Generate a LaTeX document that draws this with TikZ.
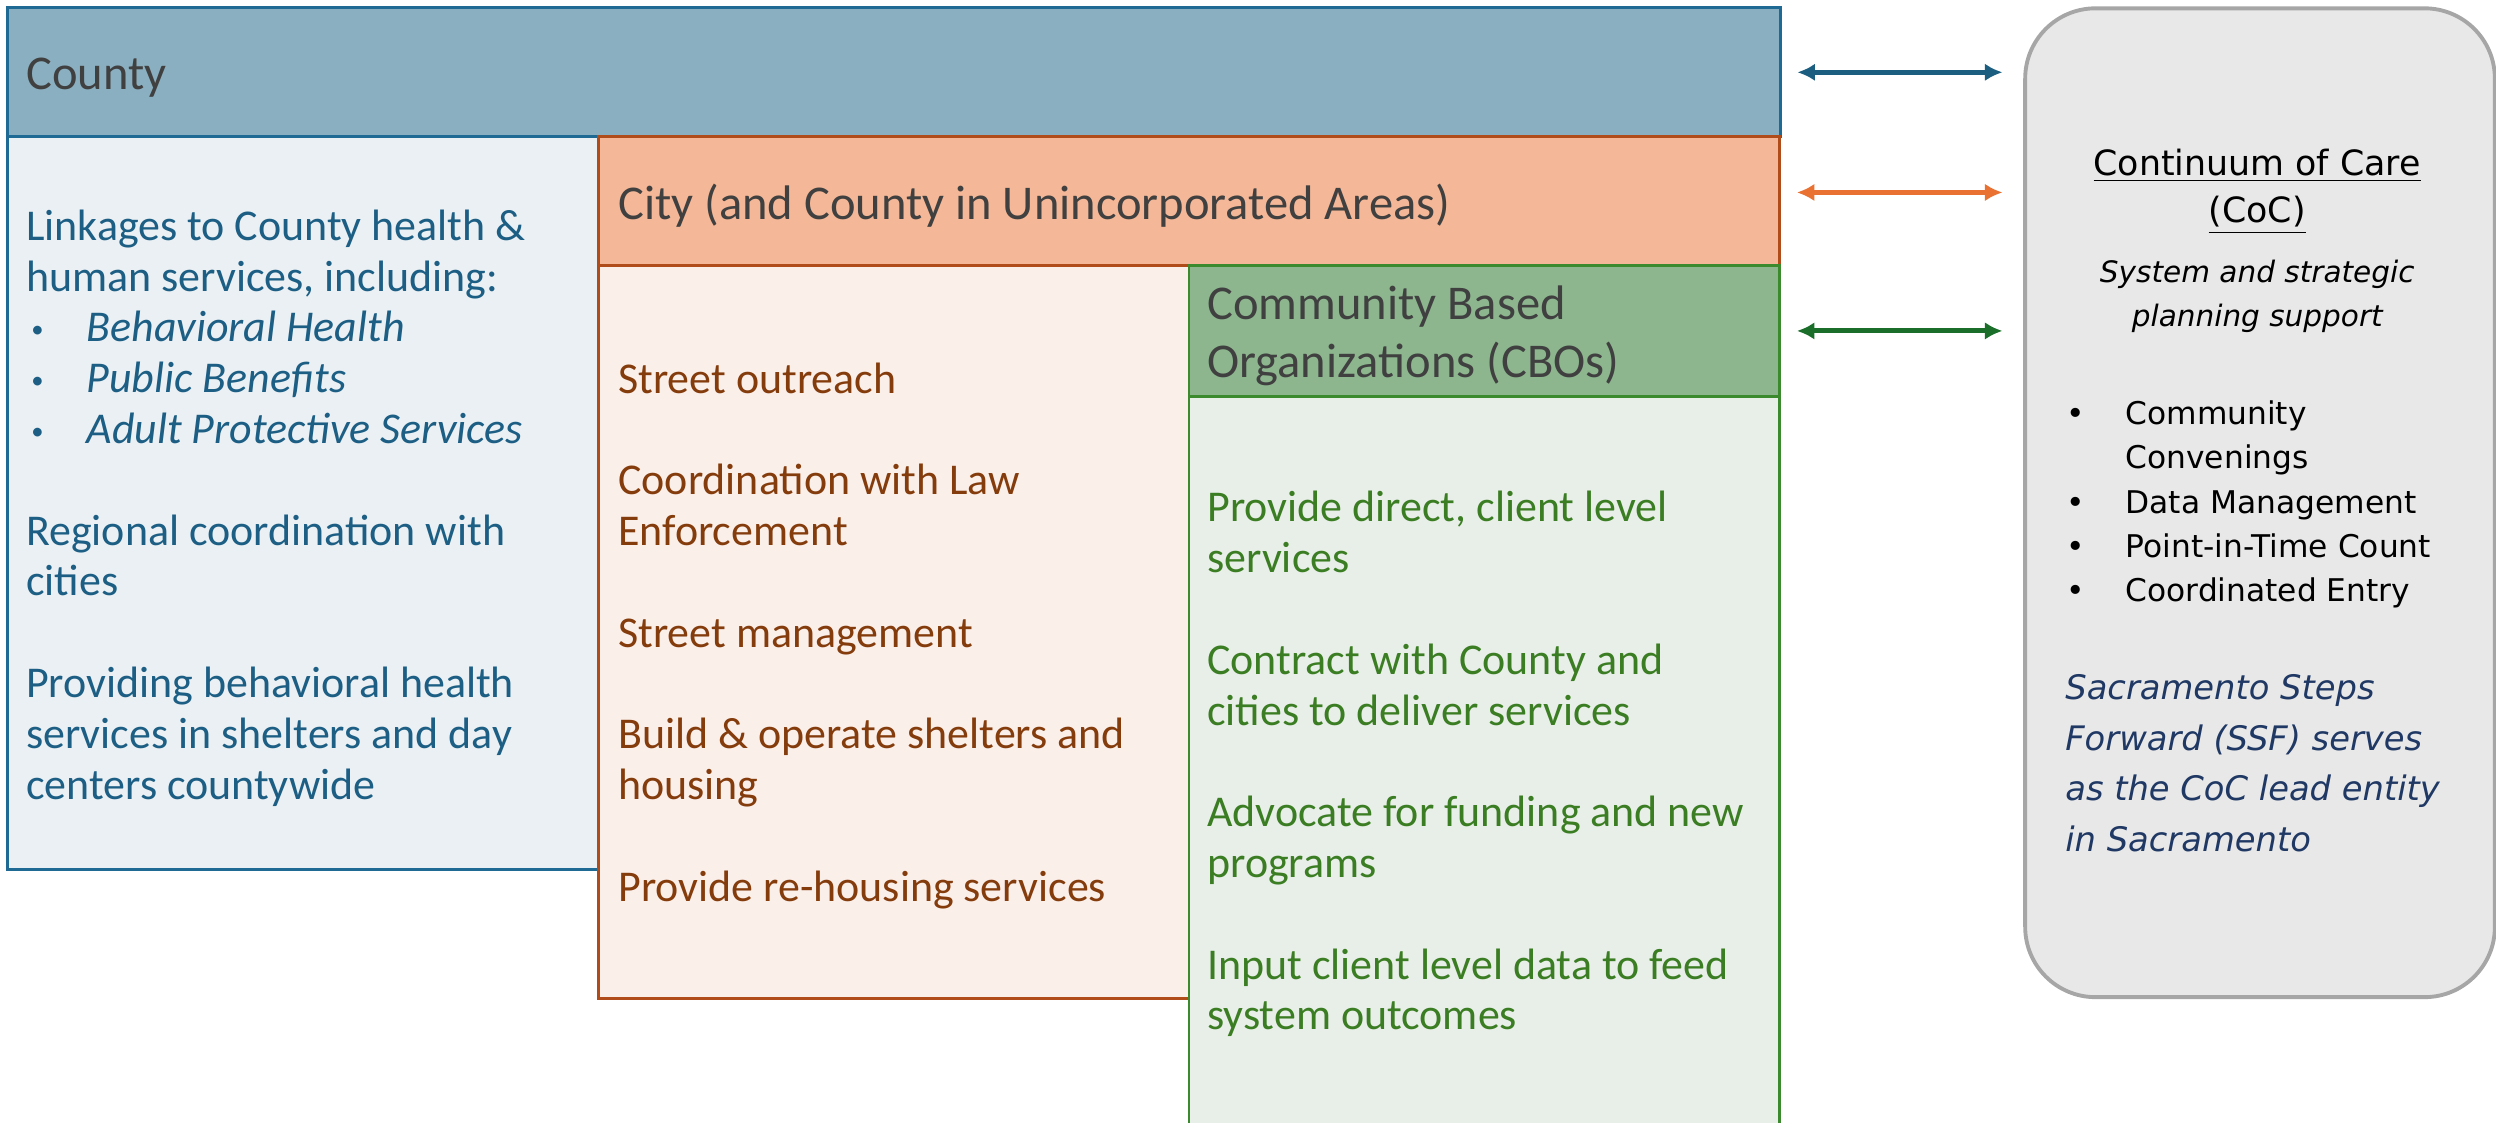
\documentclass[tikz,border=0pt]{standalone}
\usepackage{fontspec}
\setmainfont{Carlito}
\newfontfamily\cocfont{DejaVu Sans}
\usetikzlibrary{arrows.meta}

\definecolor{countyhd}{HTML}{8AAFC0}
\definecolor{countybg}{HTML}{EAF0F3}
\definecolor{countyln}{HTML}{1F6A94}
\definecolor{countytx}{HTML}{1C5E84}
\definecolor{cityhd}{HTML}{F4B797}
\definecolor{citybg}{HTML}{FBEFEA}
\definecolor{cityln}{HTML}{B04C1A}
\definecolor{citytx}{HTML}{843C0C}
\definecolor{cbohd}{HTML}{8DB68F}
\definecolor{cbobg}{HTML}{E8EFE8}
\definecolor{cboln}{HTML}{3C8A2E}
\definecolor{cbotx}{HTML}{3B7D23}
\definecolor{headtx}{HTML}{404040}
\definecolor{cocbg}{HTML}{E8E8E8}
\definecolor{cocln}{HTML}{A6A6A6}
\definecolor{coctx}{HTML}{1F3864}
\definecolor{arrblue}{HTML}{1B5E80}
\definecolor{arrorange}{HTML}{E97132}
\definecolor{arrgreen}{HTML}{1A6E2A}

\newcommand{\lbul}{\hspace*{1.5pt}\makebox[15.7pt][l]{\raisebox{1.2pt}{\fontsize{7}{7}\selectfont\textbullet}}}
\newcommand{\cbul}{\makebox[16.7pt][l]{\textbullet}}

\tikzset{
	box/.style = {draw, line width=0.8pt, anchor=north west, inner sep=0pt},
	headtext/.style = {anchor=base west, inner sep=0pt, text=headtx,
		font=\fontsize{13.8}{16.3}\selectfont, align=left},
	bodytext/.style = {anchor=base west, inner sep=0pt, align=left,
		font=\fontsize{12.5}{14.45}\selectfont},
	link/.style = {<->, >={Latex[length=5pt,width=5pt]}, line width=1.4pt,
		shorten <=4.5pt, shorten >=5.9pt},
}

\begin{document}
\begin{tikzpicture}[x=0.01592cm, y=-0.01592cm]
	\useasboundingbox (0,0) rectangle (1568,705);
	% boxes
	\node[box, fill=countyhd, draw=countyln, minimum width=17.72cm, minimum height=1.29cm] (countyhead) at (4,4) {};
	\node[box, fill=countybg, draw=countyln, minimum width=5.906cm, minimum height=7.323cm] (countypanel) at (4,85) {};
	\node[box, fill=cityhd, draw=cityln, minimum width=11.81cm, minimum height=1.29cm] (cityhead) at (375,85) {};
	\node[box, fill=citybg, draw=cityln, minimum width=5.906cm, minimum height=7.323cm] (citypanel) at (375,166) {};
	\node[box, fill=cbohd, draw=cboln, minimum width=5.906cm, minimum height=1.305cm] (cbohead) at (746,166) {};
	\node[box, fill=cbobg, draw=cboln, minimum width=5.906cm, minimum height=7.4cm] (cbopanel) at (746,248) {};
	\node[box, fill=cocbg, draw=cocln, line width=1.1pt, rounded corners=20pt,
		minimum width=4.696cm, minimum height=9.886cm] (coc) at (1271,4) {};

	% headers (anchored at the baseline of the last line)
	\node[headtext] (countytitle) at (16,56) {County};
	\node[headtext] (citytitle) at (388,138) {City (and County in Unincorporated Areas)};
	\node[headtext] (cbotitle) at (758,237) {Community Based\\Organizations (CBOs)};

	% county items
	\node[bodytext, text=countytx] (countyitems) at (16,502) {%
		Linkages to County health \&\\
		human services, including:\\
		\lbul\textit{Behavioral Health}\\
		\lbul\textit{Public Benefits}\\
		\lbul\textit{Adult Protective Services}\\[14.45pt]
		Regional coordination with\\
		cities\\[14.45pt]
		Providing behavioral health\\
		services in shelters and day\\
		centers countywide};

	% city items
	\node[bodytext, text=citytx] (cityitems) at (388,566) {%
		Street outreach\\[14.45pt]
		Coordination with Law\\
		Enforcement\\[14.45pt]
		Street management\\[14.45pt]
		Build \& operate shelters and\\
		housing\\[14.45pt]
		Provide re-housing services};

	% cbo items
	\node[bodytext, text=cbotx] (cboitems) at (758,647) {%
		Provide direct, client level\\
		services\\[14.45pt]
		Contract with County and\\
		cities to deliver services\\[14.45pt]
		Advocate for funding and new\\
		programs\\[14.45pt]
		Input client level data to feed\\
		system outcomes};

	% continuum of care
	\node[anchor=base, inner sep=0pt, align=center, font=\cocfont\fontsize{9.9}{13.55}\selectfont]
		(coctitle) at (1418,140) {\underline{Continuum of Care}\\\underline{(CoC)}};
	\node[anchor=base, inner sep=0pt, align=center, font=\cocfont\itshape\fontsize{8.4}{12.6}\selectfont]
		(cocsub) at (1418,205) {System and strategic\\planning support};
	\node[anchor=base west, inner sep=0pt, align=left, font=\cocfont\fontsize{8.9}{12.6}\selectfont]
		(coclist) at (1298,378) {%
		\cbul Community\\
		\hspace*{16.7pt}Convenings\\
		\cbul Data Management\\
		\cbul Point-in-Time Count\\
		\cbul Coordinated Entry};
	\node[anchor=base west, inner sep=0pt, align=left, text=coctx, font=\cocfont\itshape\fontsize{9.6}{14.45}\selectfont]
		(cocnote) at (1297,535) {%
		Sacramento Steps\\
		Forward (SSF) serves\\
		as the CoC lead entity\\
		in Sacramento};

	% links
	\draw[link, arrblue] (countyhead.east) -- (countyhead.east -| coc.west);
	\draw[link, arrorange] ([yshift=2.5pt]cityhead.east) -- ([yshift=2.5pt]cityhead.east -| coc.west);
	\draw[link, arrgreen] (cbohead.east) -- (cbohead.east -| coc.west);
\end{tikzpicture}
\end{document}
